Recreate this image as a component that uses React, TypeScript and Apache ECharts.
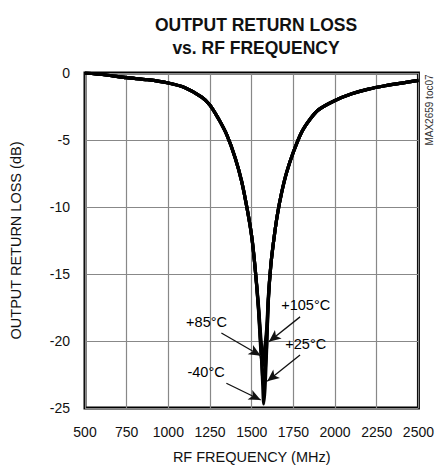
import React, { useEffect, useRef } from "react";
import * as echarts from "echarts";

const freqMHz = [500, 625, 750, 875, 1000, 1100, 1200, 1250, 1300, 1350, 1400, 1440, 1475, 1500, 1520, 1540, 1555, 1565, 1572, 1580, 1590, 1600, 1615, 1635, 1655, 1680, 1710, 1750, 1800, 1850, 1900, 2000, 2100, 2200, 2300, 2400, 2500];

const rlMinus40 = [0, -0.15, -0.35, -0.5, -0.75, -1.1, -1.8, -2.4, -3.4, -4.6, -6.3, -8.1, -10.3, -12.2, -14.5, -17.5, -20.5, -23.0, -24.7, -23.5, -20.5, -17.0, -14.3, -12.2, -10.5, -8.9, -7.4, -5.9, -4.4, -3.45, -2.75, -2.05, -1.55, -1.2, -0.95, -0.75, -0.55];
const rlPlus25 = [0, -0.15, -0.35, -0.5, -0.75, -1.1, -1.8, -2.4, -3.4, -4.6, -6.3, -8.1, -10.3, -12.2, -14.5, -17.4, -20.3, -22.6, -23.4, -22.4, -20.2, -16.9, -14.3, -12.2, -10.5, -8.9, -7.4, -5.9, -4.4, -3.45, -2.75, -2.05, -1.55, -1.2, -0.95, -0.75, -0.55];
const rlPlus85 = [0, -0.15, -0.35, -0.5, -0.75, -1.1, -1.8, -2.4, -3.4, -4.6, -6.3, -8.1, -10.3, -12.2, -14.5, -17.6, -20.8, -21.9, -21.3, -20.3, -19.0, -16.6, -14.3, -12.2, -10.5, -8.9, -7.4, -5.9, -4.4, -3.45, -2.75, -2.05, -1.55, -1.2, -0.95, -0.75, -0.55];
const rlPlus105 = [0, -0.15, -0.35, -0.5, -0.75, -1.1, -1.8, -2.4, -3.4, -4.6, -6.3, -8.1, -10.3, -12.2, -14.5, -17.2, -19.8, -21.0, -21.2, -20.6, -19.4, -16.8, -14.3, -12.2, -10.5, -8.9, -7.4, -5.9, -4.4, -3.45, -2.75, -2.05, -1.55, -1.2, -0.95, -0.75, -0.55];

const labelTexts = ["+105°C", "+85°C", "+25°C", "-40°C"];
const labelFreq = [1824, 1229, 1824, 1226];
const labelDb = [-17.35, -18.55, -20.2, -22.35];
const arrowFromFreq = [1790, 1318, 1790, 1348];
const arrowFromDb = [-18.2, -19.4, -21.05, -23.15];
const arrowToFreq = [1603, 1554, 1593, 1554];
const arrowToDb = [-20.05, -21.1, -23.0, -24.4];

const xTicks = [500, 2500, 250];
const yTicks = [-25, 0, 5];

const FONT = "'Liberation Sans', Arial, sans-serif";

function pairs(xs: number[], ys: number[]) {
  return xs.map((x, i) => [x, ys[i]]);
}

export default function App() {
  const ref = useRef<HTMLDivElement>(null);
  useEffect(() => {
    document.body.style.margin = "0";
    const chart = echarts.init(ref.current!, null, { renderer: "svg" });
    const curve = (name: string, vals: number[]) => ({
      name,
      type: "line",
      data: pairs(freqMHz, vals),
      symbol: "none",
      smooth: 0.3,
      lineStyle: { color: "#000", width: 3.2 },
      z: 3,
    });
    chart.setOption({
      animation: false,
      backgroundColor: "#fff",
      textStyle: { fontFamily: FONT },
      title: {
        text: "OUTPUT RETURN LOSS\nvs. RF FREQUENCY",
        left: 251,
        top: 8,
        textAlign: "center",
        textStyle: {
          fontFamily: FONT,
          fontWeight: "bold",
          fontSize: 17.5,
          lineHeight: 23,
          color: "#111",
        },
      },
      grid: {
        left: 83,
        right: 15,
        top: 73,
        bottom: 62,
        show: true,
        borderColor: "#000",
        borderWidth: 3,
        backgroundColor: "transparent",
      },
      xAxis: {
        type: "value",
        min: xTicks[0],
        max: xTicks[1],
        interval: xTicks[2],
        name: "RF FREQUENCY (MHz)",
        nameLocation: "middle",
        nameGap: 41,
        nameTextStyle: { fontFamily: FONT, fontSize: 14.5, color: "#111" },
        axisLine: { show: false },
        axisTick: { show: false },
        axisLabel: {
          fontFamily: FONT,
          fontSize: 14,
          color: "#111",
          margin: 17,
          formatter: (v: number) => String(v),
        },
        splitLine: { show: true, lineStyle: { color: "#888", width: 1.2 } },
      },
      yAxis: {
        type: "value",
        min: yTicks[0],
        max: yTicks[1],
        interval: yTicks[2],
        name: "OUTPUT RETURN LOSS (dB)",
        nameLocation: "middle",
        nameGap: 62,
        nameTextStyle: { fontFamily: FONT, fontSize: 14.5, color: "#111" },
        axisLine: { show: false },
        axisTick: { show: false },
        axisLabel: { fontFamily: FONT, fontSize: 14, color: "#111", margin: 15 },
        splitLine: { show: true, lineStyle: { color: "#888", width: 1.2 } },
      },
      graphic: [
        {
          type: "text",
          x: 429,
          y: 110,
          rotation: Math.PI / 2,
          style: {
            text: "MAX2659 toc07",
            fontFamily: FONT,
            fontSize: 10,
            fill: "#333",
            align: "center",
            verticalAlign: "middle",
          },
        },
      ],
      series: [
        curve("-40°C", rlMinus40),
        curve("+25°C", rlPlus25),
        curve("+85°C", rlPlus85),
        curve("+105°C", rlPlus105),
        {
          name: "labels",
          type: "scatter",
          symbolSize: 0,
          silent: true,
          data: labelTexts.map((t, i) => ({ value: [labelFreq[i], labelDb[i]], name: t })),
          label: {
            show: true,
            position: "inside",
            formatter: (p: any) => p.name,
            fontFamily: FONT,
            fontSize: 14.5,
            color: "#000",
          },
          itemStyle: { opacity: 1 },
          markLine: {
            silent: true,
            symbol: ["none", "arrow"],
            symbolSize: [8, 12],
            label: { show: false },
            lineStyle: { color: "#111", width: 1.3, type: "solid" },
            data: arrowFromFreq.map((f, i) => [
              { coord: [f, arrowFromDb[i]] },
              { coord: [arrowToFreq[i], arrowToDb[i]] },
            ]),
          },
          z: 4,
        },
      ],
    });
    return () => chart.dispose();
  }, []);
  return <div ref={ref} style={{ width: 437, height: 470 }} />;
}
